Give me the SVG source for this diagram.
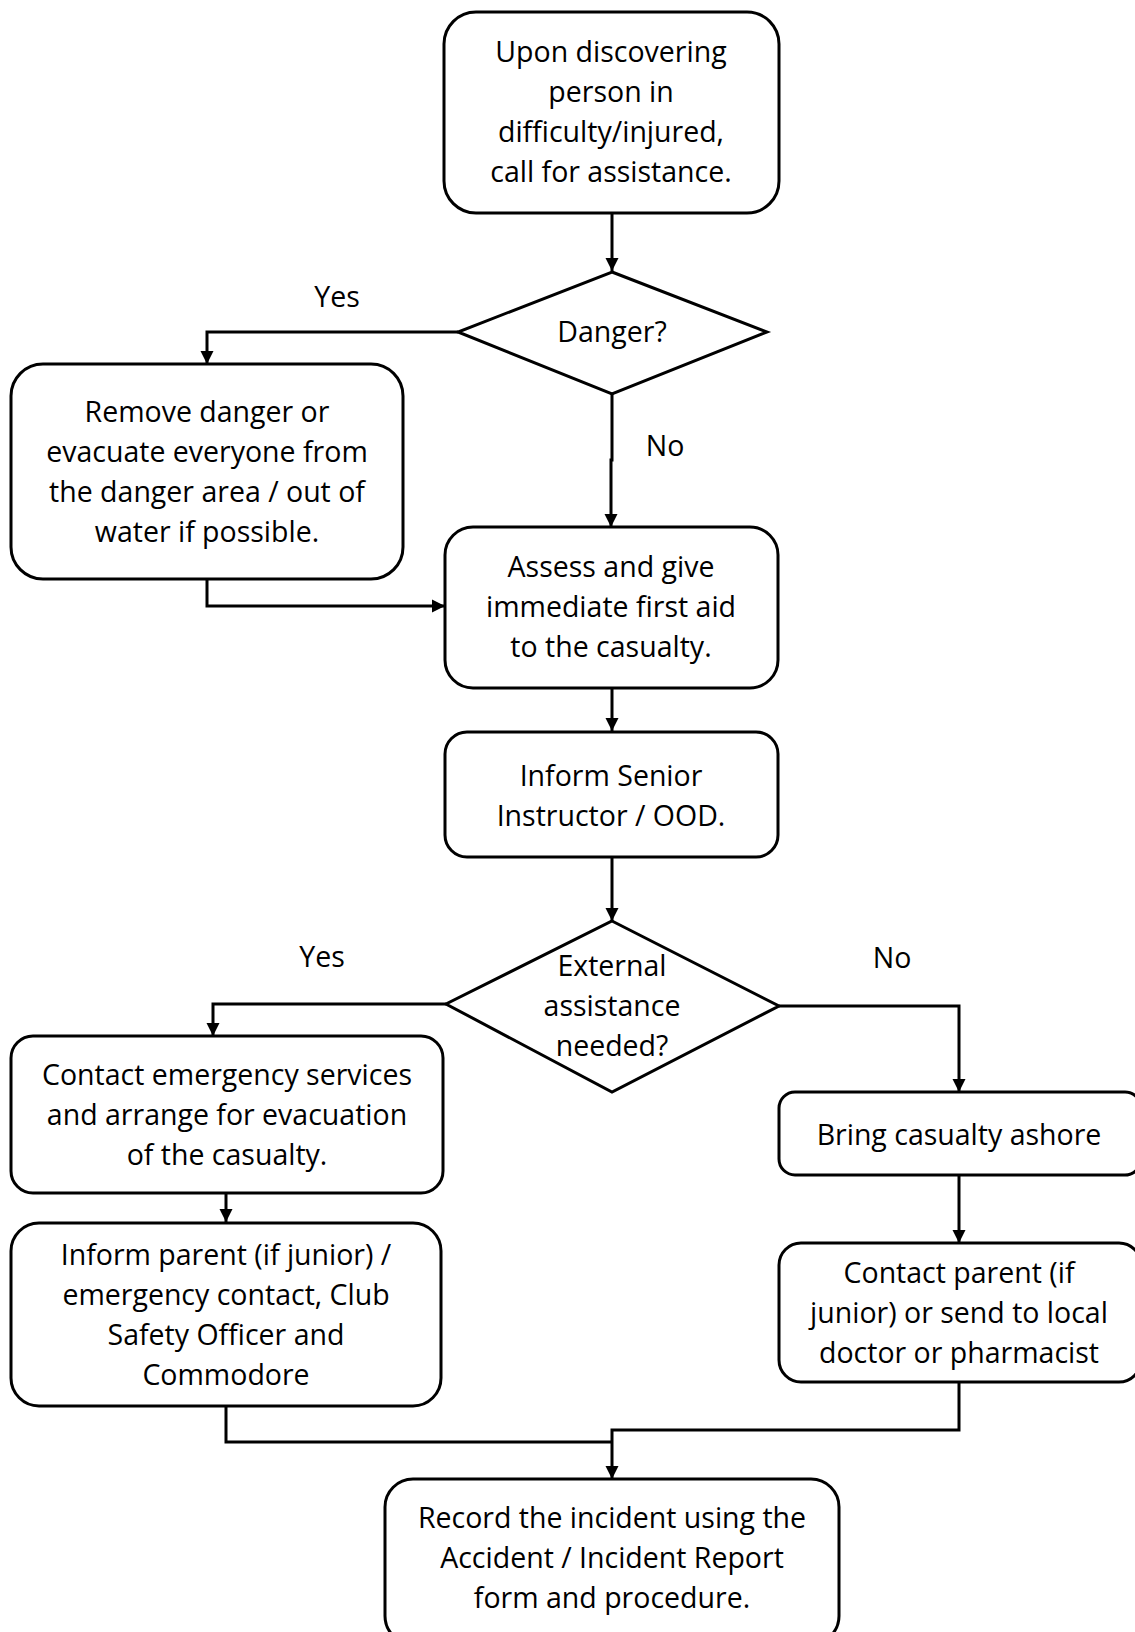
<svg xmlns="http://www.w3.org/2000/svg" width="1135" height="1632" viewBox="0 0 1135 1632">
<defs>
<style>
.box{fill:#fff;stroke:#000;stroke-width:3}
.t{font-family:"Open Sans","DejaVu Sans",sans-serif;font-size:28.5px;fill:#000;text-anchor:middle}
.c{fill:none;stroke:#000;stroke-width:3}
</style>
<marker id="ah" viewBox="0 0 10 10" refX="10" refY="5" markerWidth="4.5" markerHeight="4.5" orient="auto" markerUnits="strokeWidth">
<path d="M0,0 L10,5 L0,10 z" fill="#000"/>
</marker>
</defs>
<rect width="1135" height="1632" fill="#fff"/>
<g id="connectors">
<path class="c" d="M612 212 V271" marker-end="url(#ah)"/>
<path class="c" d="M458 332 H207 V364" marker-end="url(#ah)"/>
<path class="c" d="M612 394 V460 H611 V527" marker-end="url(#ah)"/>
<path class="c" d="M207 579 V606 H445" marker-end="url(#ah)"/>
<path class="c" d="M612 688 V731" marker-end="url(#ah)"/>
<path class="c" d="M612 857 V921" marker-end="url(#ah)"/>
<path class="c" d="M446 1004 H213 V1036" marker-end="url(#ah)"/>
<path class="c" d="M779 1006 H959 V1092" marker-end="url(#ah)"/>
<path class="c" d="M226 1193 V1222" marker-end="url(#ah)"/>
<path class="c" d="M959 1175 V1243" marker-end="url(#ah)"/>
<path class="c" d="M226 1406 V1442 H612"/>
<path class="c" d="M959 1382 V1430 H612 V1479" marker-end="url(#ah)"/>
<text class="t" x="337" y="307">Yes</text>
<text class="t" x="665" y="456">No</text>
<text class="t" x="322" y="967">Yes</text>
<text class="t" x="892" y="968">No</text>
</g>
<g id="n1">
<rect class="box" x="444" y="12" width="335" height="201" rx="32"/>
<text class="t" x="611" y="62">Upon discovering</text>
<text class="t" x="611" y="102">person in</text>
<text class="t" x="611" y="142">difficulty/injured,</text>
<text class="t" x="611" y="182">call for assistance.</text>
</g>
<g id="danger">
<polygon class="box" points="612,272 767,332 612,394 458,332"/>
<text class="t" x="612" y="342">Danger?</text>
</g>
<g id="remove">
<rect class="box" x="11" y="364" width="392" height="215" rx="32"/>
<text class="t" x="207" y="422">Remove danger or</text>
<text class="t" x="207" y="462">evacuate everyone from</text>
<text class="t" x="207" y="502">the danger area / out of</text>
<text class="t" x="207" y="542">water if possible.</text>
</g>
<g id="assess">
<rect class="box" x="445" y="527" width="333" height="161" rx="28"/>
<text class="t" x="611" y="577">Assess and give</text>
<text class="t" x="611" y="617">immediate first aid</text>
<text class="t" x="611" y="657">to the casualty.</text>
</g>
<g id="inform-senior">
<rect class="box" x="445" y="732" width="333" height="125" rx="22"/>
<text class="t" x="611" y="786">Inform Senior</text>
<text class="t" x="611" y="826">Instructor / OOD.</text>
</g>
<g id="external">
<polygon class="box" points="612,921 779,1006 612,1092 446,1004"/>
<text class="t" x="612" y="976">External</text>
<text class="t" x="612" y="1016">assistance</text>
<text class="t" x="612" y="1056">needed?</text>
</g>
<g id="contact-emergency">
<rect class="box" x="11" y="1036" width="432" height="157" rx="22"/>
<text class="t" x="227" y="1085">Contact emergency services</text>
<text class="t" x="227" y="1125">and arrange for evacuation</text>
<text class="t" x="227" y="1165">of the casualty.</text>
</g>
<g id="bring">
<rect class="box" x="779" y="1092" width="362" height="83" rx="16"/>
<text class="t" x="959" y="1145">Bring casualty ashore</text>
</g>
<g id="inform-parent">
<rect class="box" x="11" y="1223" width="430" height="183" rx="28"/>
<text class="t" x="226" y="1265">Inform parent (if junior) /</text>
<text class="t" x="226" y="1305">emergency contact, Club</text>
<text class="t" x="226" y="1345">Safety Officer and</text>
<text class="t" x="226" y="1385">Commodore</text>
</g>
<g id="contact-parent">
<rect class="box" x="779" y="1243" width="362" height="139" rx="22"/>
<text class="t" x="959" y="1283">Contact parent (if</text>
<text class="t" x="959" y="1323">junior) or send to local</text>
<text class="t" x="959" y="1363">doctor or pharmacist</text>
</g>
<g id="record">
<rect class="box" x="385" y="1479" width="454" height="165" rx="28"/>
<text class="t" x="612" y="1528">Record the incident using the</text>
<text class="t" x="612" y="1568">Accident / Incident Report</text>
<text class="t" x="612" y="1608">form and procedure.</text>
</g>
</svg>
